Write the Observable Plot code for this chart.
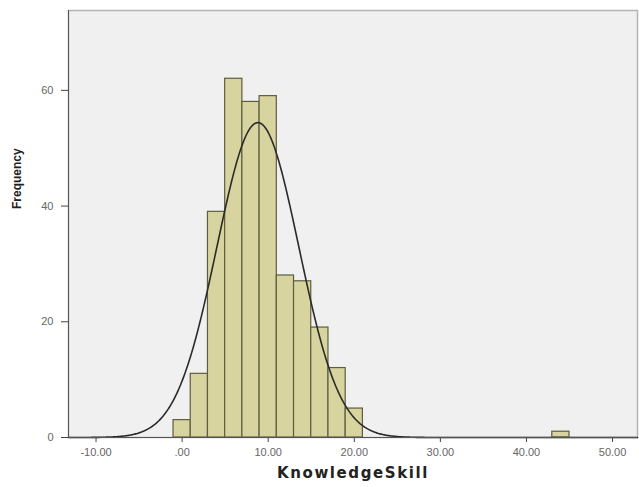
<!DOCTYPE html>
<html><head><meta charset="utf-8">
<script src="https://cdn.jsdelivr.net/npm/d3@7"></script>
<script src="https://cdn.jsdelivr.net/npm/@observablehq/plot@0.6"></script>
<style>
body{margin:0;background:#fff;}
svg{display:block;}
</style></head><body>
<div id="chart"></div>
<script>
// Histogram bins (KnowledgeSkill) and frequencies
const binStart = [-1, 1, 3, 5, 7, 9, 11, 13, 15, 17, 19, 43];
const binEnd   = [ 1, 3, 5, 7, 9, 11, 13, 15, 17, 19, 21, 45];
const frequency = [3, 11, 39, 62, 58, 59, 28, 27, 19, 12, 5, 1];
const xTicks = [-10, 0, 10, 20, 30, 40, 50];
const yTicks = [0, 20, 40, 60];
// Fitted normal curve parameters (as drawn by SPSS)
const curveMean = 8.8;
const curveSD = 4.75;
const curveN = 324;
const binWidth = 2;
const xDomain = [-13.2, 52.9];
const yDomain = [0, 73.8];

const bars = binStart.map((s, i) => ({x1: s, x2: binEnd[i], y: frequency[i]}));
const curve = d3.range(xDomain[0], xDomain[1] + 0.05, 0.1).map(x => ({
  x,
  y: curveN * binWidth / (curveSD * Math.sqrt(2 * Math.PI)) * Math.exp(-0.5 * ((x - curveMean) / curveSD) ** 2)
}));

const fmt = d => d === 0 ? ".00" : d.toFixed(2);

const plot = Plot.plot({
  width: 639, height: 487,
  marginLeft: 68, marginRight: 2, marginTop: 10, marginBottom: 50,
  style: {fontFamily: "'Liberation Sans', Arial, sans-serif", fontSize: "11px", background: "#fff"},
  x: {domain: xDomain},
  y: {domain: yDomain},
  marks: [
    Plot.frame({fill: "#f0f0f0"}),
    Plot.frame({stroke: "#b5b5b5", strokeWidth: 1.5}),
    Plot.rectY(bars, {x1: "x1", x2: "x2", y: "y", fill: "#d8d4a0", stroke: "#5e5d40", strokeWidth: 1.2}),
    Plot.line(curve, {x: "x", y: "y", stroke: "#2b2b2b", strokeWidth: 1.6}),
    Plot.axisX({ticks: xTicks, tickSize: 5, tickPadding: 6, tickFormat: fmt, label: null, stroke: "#444", fill: "#666"}),
    Plot.axisY({ticks: yTicks, tickSize: 7, tickPadding: 8, tickFormat: d => String(d), label: null, stroke: "#444", fill: "#666"}),
    Plot.ruleX([xDomain[0]], {stroke: "#555"}),
    Plot.ruleY([0], {stroke: "#555"}),
    Plot.text(["KnowledgeSkill"], {text: d => d, frameAnchor: "bottom", dy: 40, fontWeight: "bold", fontSize: 15, fill: "#222", fontFamily: "'DejaVu Sans', sans-serif"}),
    Plot.text(["Frequency"], {text: d => d, frameAnchor: "left", rotate: -90, dx: -51, dy: -15, fontWeight: "bold", fontSize: 12, fill: "#222"})
  ]
});
d3.select(plot).selectAll("text").filter(function() { return this.textContent === "KnowledgeSkill"; })
  .attr("letter-spacing", "1.6px");
document.getElementById("chart").appendChild(plot);
</script>
</body></html>
